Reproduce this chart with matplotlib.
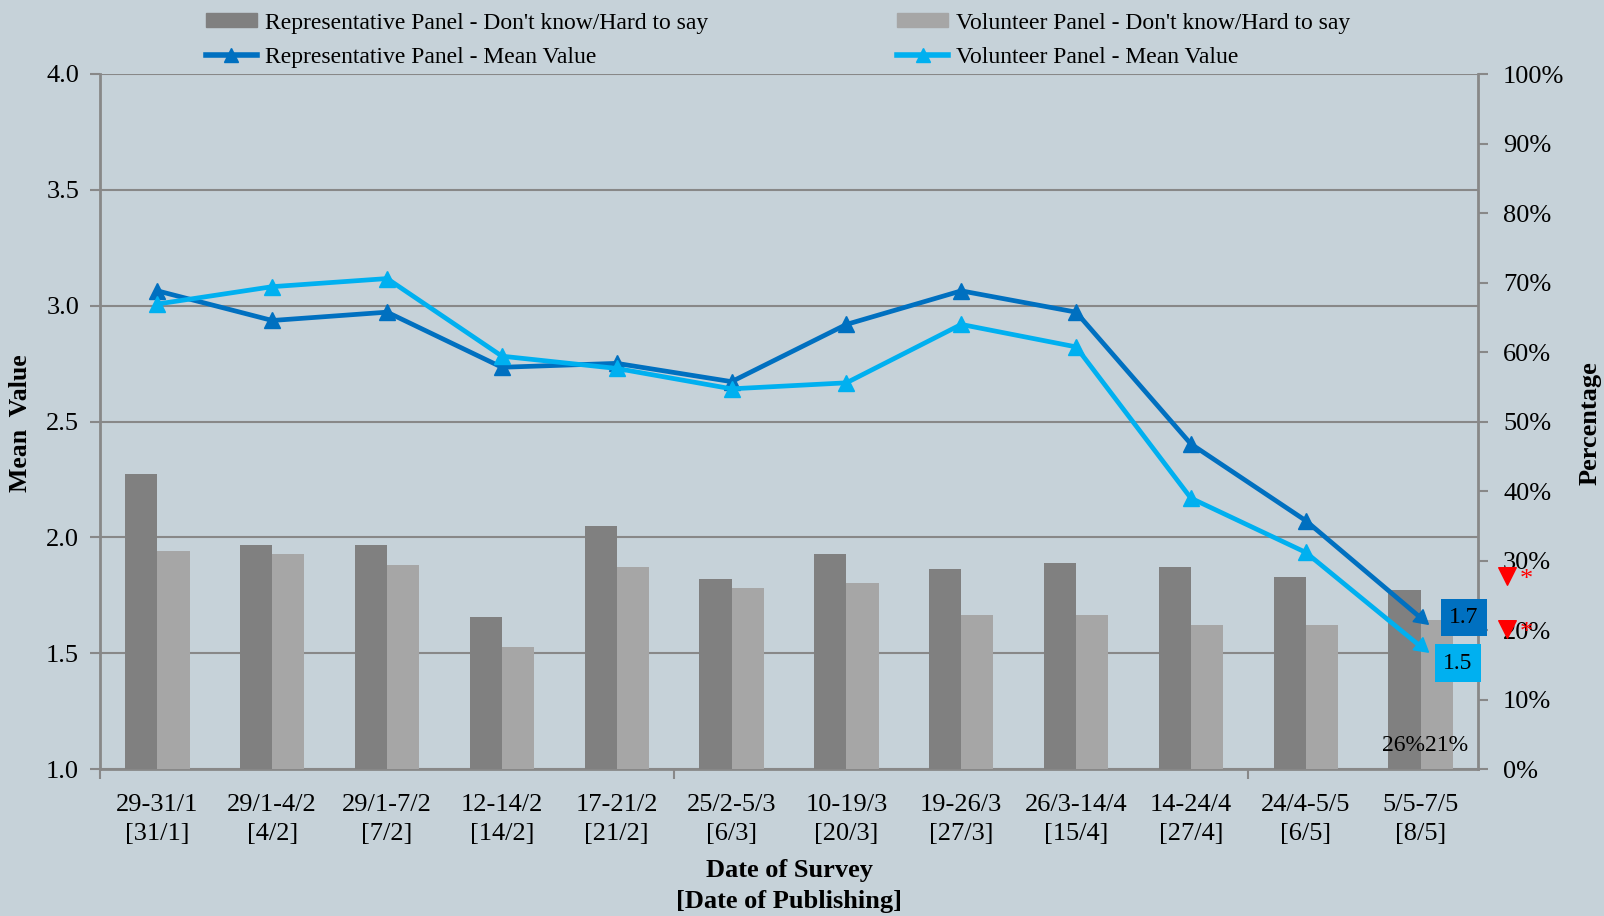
import matplotlib
matplotlib.use("Agg")
import matplotlib.pyplot as plt
import numpy as np
from matplotlib.lines import Line2D
from matplotlib.patches import Patch
from matplotlib.ticker import FixedLocator, FuncFormatter

plt.rcParams['font.family'] = ['Liberation Serif', 'DejaVu Serif']
plt.rcParams['font.size'] = 19

categories = ["29-31/1\n[31/1]", "29/1-4/2\n[4/2]", "29/1-7/2\n[7/2]", "12-14/2\n[14/2]",
              "17-21/2\n[21/2]", "25/2-5/3\n[6/3]", "10-19/3\n[20/3]", "19-26/3\n[27/3]",
              "26/3-14/4\n[15/4]", "14-24/4\n[27/4]", "24/4-5/5\n[6/5]", "5/5-7/5\n[8/5]"]
rep_dk = [42.4, 32.2, 32.2, 21.9, 34.9, 27.4, 31.0, 28.8, 29.7, 29.1, 27.6, 25.7]
vol_dk = [31.3, 30.9, 29.4, 17.6, 29.1, 26.0, 26.8, 22.2, 22.2, 20.7, 20.7, 21.4]
rep_mean = [3.064, 2.936, 2.972, 2.734, 2.751, 2.672, 2.919, 3.064, 2.972, 2.403, 2.072, 1.653]
vol_mean = [3.007, 3.082, 3.117, 2.782, 2.729, 2.641, 2.667, 2.919, 2.822, 2.169, 1.935, 1.529]
sig_marks_x = [11.75, 11.75]
sig_marks_y = [27.8, 20.1]

C_REP = '#0070C0'
C_VOL = '#00B0F0'
C_DK1 = '#808080'
C_DK2 = '#A6A6A6'
BG = '#C6D2D9'
GRID = '#888888'

fig = plt.figure(figsize=(16.04, 9.16), dpi=100, facecolor=BG)
ax = fig.add_axes([100/1604, 1-769/916, 1378/1604, 695/916])
ax.set_facecolor(BG)
axp = ax.twinx()
axl = ax.twinx()

x = np.arange(len(categories))
w = 0.28

# mean axis (left) with grid
ax.set_ylim(1, 4)
ax.set_xlim(-0.5, len(categories) - 0.5)
ax.set_yticks(np.arange(1.0, 4.01, 0.5))
ax.yaxis.set_major_formatter(FuncFormatter(lambda v, p: f"{v:.1f}"))
ax.grid(axis='y', color=GRID, linewidth=1.5)
ax.set_axisbelow(True)
ax.set_xticks(x)
ax.set_xticklabels(categories, linespacing=1.43)
ax.xaxis.set_minor_locator(FixedLocator([-0.5, 4.5, 9.5]))
ax.tick_params(axis='x', which='major', length=0, pad=18)
ax.tick_params(axis='x', which='minor', length=7, color=GRID, width=1.5)
ax.tick_params(axis='y', length=7, color=GRID, width=1.5, pad=8)
for s in ['top', 'right']:
    ax.spines[s].set_visible(False)
for s in ['left', 'bottom']:
    ax.spines[s].set_color(GRID)
    ax.spines[s].set_linewidth(2)
ax.set_ylabel("Mean  Value", fontweight='bold', fontsize=18.5)
ax.yaxis.set_label_coords(-0.0493, 0.497)
ax.set_xlabel("Date of Survey\n[Date of Publishing]", fontweight='bold', labelpad=10, linespacing=1.45)

# percent axis (right) with bars
axp.set_ylim(0, 100)
axp.set_yticks(np.arange(0, 101, 10))
axp.yaxis.set_major_formatter(FuncFormatter(lambda v, p: f"{v:.0f}%"))
axp.tick_params(axis='y', length=7, color=GRID, width=1.5, pad=11)
for s in ['top', 'left', 'bottom']:
    axp.spines[s].set_visible(False)
axp.spines['right'].set_color(GRID)
axp.spines['right'].set_linewidth(2)
axp.set_ylabel("Percentage", fontweight='bold')
axp.yaxis.set_label_coords(1.0733, 0.498)
axp.bar(x - w/2, rep_dk, w, color=C_DK1, zorder=2)
axp.bar(x + w/2, vol_dk, w, color=C_DK2, zorder=2)
axp.annotate(f"{rep_dk[-1]:.0f}%", xy=(x[-1] - w/2, 0), xytext=(-1, 17), textcoords='offset points',
             ha='center', va='center', fontsize=17)
axp.annotate(f"{vol_dk[-1]:.0f}%", xy=(x[-1] + w/2, 0), xytext=(7, 17), textcoords='offset points',
             ha='center', va='center', fontsize=17)
axp.scatter(sig_marks_x, sig_marks_y, marker='v', s=160, color='red', clip_on=False, zorder=5)
for sx, sy in zip(sig_marks_x, sig_marks_y):
    axp.annotate("*", xy=(sx, sy), xytext=(14, -3), textcoords='offset points', color='red',
                 fontsize=19, ha='center', va='center', annotation_clip=False)

# line axis on top
axl.set_ylim(1, 4)
axl.set_xlim(-0.5, len(categories) - 0.5)
axl.set_yticks([])
for s in axl.spines.values():
    s.set_visible(False)
for series, col in [(rep_mean, C_REP), (vol_mean, C_VOL)]:
    axl.plot(x, series, color=col, lw=3.4, marker='^', ms=11, markevery=slice(0, len(x) - 1), zorder=3)
    p1 = axl.transData.transform((x[-2], series[-2]))
    p2 = axl.transData.transform((x[-1], series[-1]))
    ang = np.degrees(np.arctan2(p2[1] - p1[1], p2[0] - p1[0]))
    axl.plot([x[-1]], [series[-1]], linestyle='none', marker=(3, 0, ang - 90), ms=13, color=col, zorder=3)
axl.annotate(f"{rep_mean[-1]:.1f}", xy=(x[-1], rep_mean[-1]), xytext=(31, 0), textcoords='offset points',
             ha='center', va='center', fontsize=17,
             bbox=dict(boxstyle='square,pad=0.35', fc=C_REP, ec='none'), annotation_clip=False)
axl.annotate(f"{vol_mean[-1]:.1f}", xy=(x[-1], vol_mean[-1]), xytext=(27, -12), textcoords='offset points',
             ha='center', va='center', fontsize=17,
             bbox=dict(boxstyle='square,pad=0.35', fc=C_VOL, ec='none'), annotation_clip=False)

handles = [Patch(color=C_DK1), Line2D([], [], color=C_REP, lw=4, marker='^', ms=10),
           Patch(color=C_DK2), Line2D([], [], color=C_VOL, lw=4, marker='^', ms=10)]
labels = ["Representative Panel - Don't know/Hard to say", "Representative Panel - Mean Value",
          "Volunteer Panel - Don't know/Hard to say", "Volunteer Panel - Mean Value"]
fig.legend(handles, labels, ncol=2, loc='upper left', bbox_to_anchor=(205.5/1604, 1 - 12.5/916),
           frameon=False, fontsize=17, handlelength=2.17, handleheight=0.55, handletextpad=0.34,
           columnspacing=8.0, labelspacing=0.56, borderpad=0, borderaxespad=0)

fig.savefig("out.png", dpi=100, facecolor=BG)
